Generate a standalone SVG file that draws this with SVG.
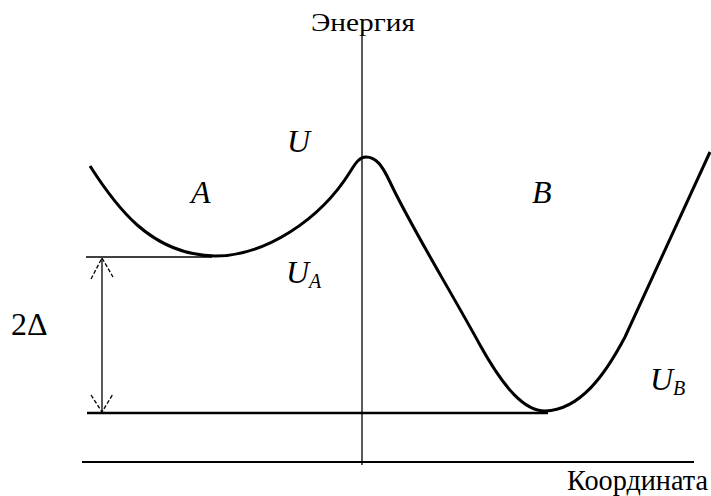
<svg xmlns="http://www.w3.org/2000/svg" width="711" height="496" viewBox="0 0 711 496">
<rect width="711" height="496" fill="#fff"/>
<g id="connectors" stroke="#000" fill="none">
<line x1="362" y1="35" x2="362" y2="465" stroke-width="1.3"/>
<line x1="82" y1="462" x2="694" y2="462" stroke-width="2.2"/>
<line x1="87" y1="413" x2="548" y2="413" stroke-width="2.6"/>
<line x1="86" y1="257" x2="212" y2="257" stroke-width="1.3"/>
<line x1="102" y1="258" x2="102" y2="412" stroke-width="1.3"/>
<path d="M91,279 L102,258 L113,277 M91,395 L102,412 L113,394" stroke-width="1.3" stroke-dasharray="4,2"/>
<path stroke-width="3" d="M90,166 C115,205 150,255 215,256 C265,256 320,220 350,172 C356,162 360,157 366,157 C376,157 382,165 390,182 C410,225 450,290 480,345 C505,390 525,411 545,411 C580,410 605,375 625,337 L710,152"/>
</g>
<text font-family="Liberation Serif" x="311" y="31" font-size="25" textLength="104" lengthAdjust="spacingAndGlyphs">Энергия</text>
<text font-family="Liberation Serif" x="287" y="152" font-size="32" font-style="italic">U</text>
<text font-family="Liberation Serif" x="191" y="203" font-size="32" font-style="italic">A</text>
<text font-family="Liberation Serif" x="532" y="203" font-size="32" font-style="italic">B</text>
<text font-family="Liberation Serif" x="286" y="283" font-size="32" font-style="italic">U</text>
<text font-family="Liberation Serif" x="309" y="288" font-size="20" font-style="italic">A</text>
<text font-family="Liberation Serif" x="650" y="390" font-size="32" font-style="italic">U</text>
<text font-family="Liberation Serif" x="673" y="395" font-size="20" font-style="italic">B</text>
<text font-family="Liberation Serif" x="11" y="335" font-size="32">2Δ</text>
<text font-family="Liberation Serif" x="567" y="490" font-size="29" textLength="141" lengthAdjust="spacingAndGlyphs">Координата</text>
</svg>
